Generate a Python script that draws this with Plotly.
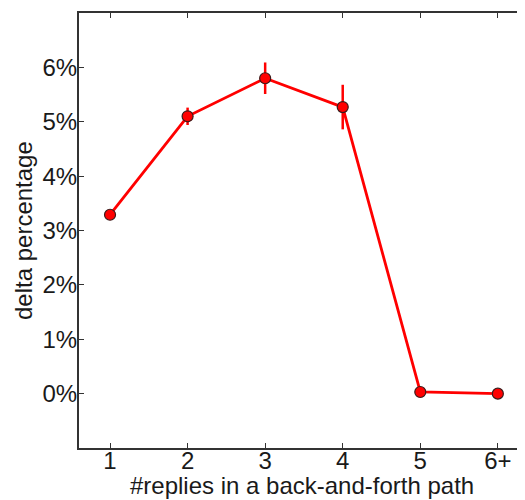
import plotly.graph_objects as go

categories = ["1", "2", "3", "4", "5", "6+"]
x_pos = [1, 2, 3, 4, 5, 6]
delta_pct = [3.29, 5.10, 5.80, 5.27, 0.03, 0.00]
err_pct = [0.0, 0.16, 0.29, 0.41, 0.0, 0.0]
y_ticks = [0, 1, 2, 3, 4, 5, 6]
y_tick_labels = ["0%", "1%", "2%", "3%", "4%", "5%", "6%"]
x_title = "#replies in a back-and-forth path"
y_title = "delta percentage"

FONT = "Liberation Sans, Arial, Helvetica, sans-serif"
TXT = "#1a1a1a"

fig = go.Figure()
fig.add_trace(go.Scatter(
    x=x_pos, y=delta_pct,
    mode="lines+markers",
    line=dict(color="#ff0000", width=2.8),
    marker=dict(size=11, color="#ff0000", line=dict(color="#3a1a1a", width=1.2)),
    error_y=dict(type="data", array=err_pct, visible=True, color="#ff0000",
                 thickness=2.5, width=0),
    showlegend=False,
))

axis_common = dict(
    showline=True, linecolor="#333333", linewidth=2,
    ticks="inside", ticklen=5, tickwidth=1.2, tickcolor="#333333",
    showgrid=False, zeroline=False, automargin=False,
    tickfont=dict(family=FONT, size=24, color=TXT),
)

fig.update_xaxes(
    range=[0.6, 6.35], tickvals=x_pos, ticktext=categories,
    mirror="ticks", ticklabelstandoff=-10,
    **axis_common,
)
fig.update_yaxes(
    range=[-1, 7], tickvals=y_ticks, ticktext=y_tick_labels,
    mirror=False, ticklabelstandoff=-5,
    **axis_common,
)

fig.add_annotation(
    text=x_title, xref="paper", yref="paper", x=0.5, y=0,
    xanchor="center", yanchor="top", yshift=-22, showarrow=False,
    font=dict(family=FONT, size=24, color=TXT),
)
fig.add_annotation(
    text=y_title, xref="paper", yref="paper", x=0, y=0.5,
    xanchor="right", yanchor="middle", xshift=-40, textangle=-90, showarrow=False,
    font=dict(family=FONT, size=24, color=TXT),
)

# the page places the figure 8px from the top-left corner of the window
fig.update_layout(
    width=517, height=492,
    margin=dict(l=71, r=0, t=5, b=52),
    paper_bgcolor="white", plot_bgcolor="white",
    font=dict(family=FONT),
)

fig.write_html("out.html")
